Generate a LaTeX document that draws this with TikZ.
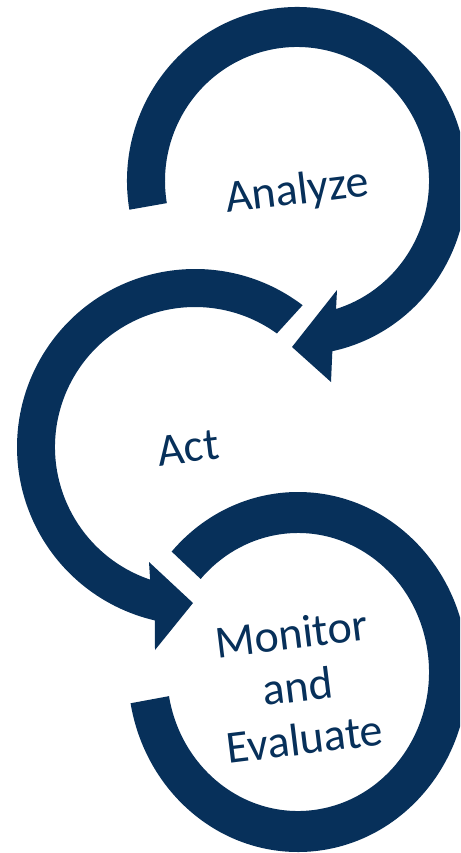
\documentclass[tikz,border=0pt]{standalone}
\usepackage{fontspec}
\setmainfont{Carlito}
\usetikzlibrary{calc}
\definecolor{navy}{HTML}{07305A}
\begin{document}
\begin{tikzpicture}[x=1pt,y=1pt,
  ringarrow/.style={fill=navy,draw=none},
  steplabel/.style={text=navy,font=\fontsize{46}{53}\selectfont,align=center,rotate=7,inner sep=0pt}]
\clip (0,0) rectangle (460,-853);
\fill[white] (0,0) rectangle (460,-853);
% centres
\coordinate (cA) at (297,-181);
\coordinate (cB) at (195,-447);
\coordinate (cC) at (298,-672);
% arrowhead points
\coordinate (a1) at (337,-290);
\coordinate (at) at (292,-347);
\coordinate (a2) at (331,-382);
\coordinate (b1) at (149,-562);
\coordinate (bt) at (193,-603);
\coordinate (b2) at (155,-650);
% Analyze arrow
\fill[ringarrow] ($(cA)+(189.5:170pt and 174pt)$)
  arc[start angle=189.5,end angle=-78,x radius=170pt,y radius=174pt]
  -- (a2) -- (at) -- (a1)
  -- ($(cA)+(-72.8:132pt and 134pt)$)
  arc[start angle=-72.8,end angle=189.5,x radius=132pt,y radius=134pt] -- cycle;
% Act arrow
\fill[ringarrow] ($(cB)+(52.8:178pt and 178pt)$)
  arc[start angle=52.8,end angle=257,x radius=178pt,y radius=178pt]
  -- (b2) -- (bt) -- (b1)
  -- ($(cB)+(251.3:140pt and 140pt)$)
  arc[start angle=251.3,end angle=54.2,x radius=140pt,y radius=140pt] -- cycle;
% Monitor arc
\fill[ringarrow] ($(cC)+(138:170pt and 180pt)$)
  arc[start angle=138,end angle=-170,x radius=170pt,y radius=180pt]
  -- ($(cC)+(-170:131pt and 139pt)$)
  arc[start angle=-170,end angle=138,x radius=131pt,y radius=139pt] -- cycle;
% labels
\node[steplabel] (analyze) at (297,-192) {Analyze};
\node[steplabel] (act) at (188,-448) {Act};
\node[steplabel] (monitor) at (298,-686) {Monitor\\and\\Evaluate};
\end{tikzpicture}
\end{document}
